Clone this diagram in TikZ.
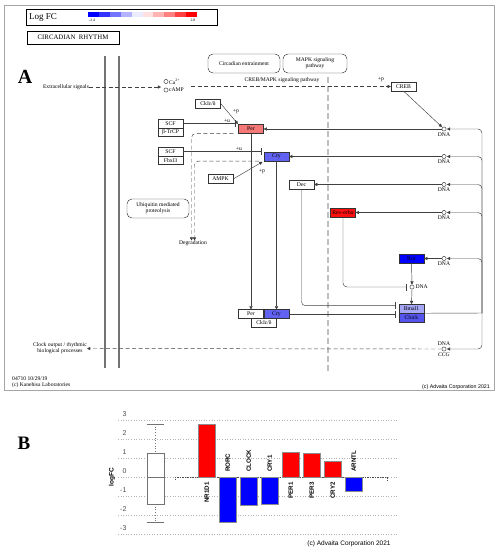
\documentclass[tikz,border=0pt]{standalone}
\usepackage{fontspec}
\setmainfont{Liberation Serif}
\setsansfont{Liberation Sans}
\usetikzlibrary{arrows.meta,positioning}

\definecolor{perred}{HTML}{F47878}
\definecolor{revred}{HTML}{FF1010}
\definecolor{crymid}{HTML}{6262F2}
\definecolor{rorblue}{HTML}{0000FF}
\definecolor{bmallight}{HTML}{A6A6F6}
\definecolor{clockmid}{HTML}{5555EE}

\tikzset{
	wire/.style={draw=black!75, line width=0.45pt},
	arr/.style={wire, -{Triangle[length=3.2pt,width=3.2pt]}},
	inh/.style={wire, -{Bar[width=7pt,line width=0.7pt]}},
	dsh/.style={wire, dash pattern=on 4pt off 2.5pt},
	gene/.style={draw=black!80, line width=0.4pt, minimum width=25pt, minimum height=8.7pt, inner sep=0pt, font=\fontsize{5.7}{6}\selectfont},
	dna/.style={circle, draw=black!80, line width=0.45pt, minimum size=4.2pt, inner sep=0pt},
	dnatxt/.style={font=\fontsize{5.6}{6}\selectfont, inner sep=1pt},
	tag/.style={font=\fontsize{5.6}{6.2}\selectfont, inner sep=0pt},
	mapbox/.style={draw=black!80, line width=0.45pt, rounded corners=5pt, align=center, font=\fontsize{5.6}{6}\selectfont},
	barlab/.style={font=\sffamily\bfseries\fontsize{6.2}{7}\selectfont, rotate=90, inner sep=0pt},
}

\begin{document}
\begin{tikzpicture}[x=1pt, y=-1pt]
	\useasboundingbox (0,0) rectangle (499,550);
	% panel A: frame, legend, title
	\draw[black!35, line width=0.8pt] (4,5) rectangle (494,390);
	\draw[line width=0.8pt] (26,9) rectangle (217,25);
	\node[font=\fontsize{9}{10}\selectfont] (logfc) at (43,17.5) {Log FC};
	\foreach \c [count=\i from 0] in {blue,blue!80,blue!55,blue!30,blue!8,red!12,red!30,red!50,red!75,red}
		\fill[\c] ({88+10.9*\i},11.5) rectangle ++(10.9,5.5);
	\node[tag, font=\fontsize{3.8}{4}\selectfont] (lo) at (92,20.7) {-2.4};
	\node[tag, font=\fontsize{3.8}{4}\selectfont] (hi) at (193,20.7) {2.8};
	\node[draw, line width=0.8pt, minimum width=92pt, minimum height=13pt, font=\fontsize{6.8}{8}\selectfont] (title) at (73,37.5) {CIRCADIAN\ \ RHYTHM};
	\node[font=\bfseries\fontsize{20}{20}\selectfont] (panA) at (25,77) {A};
	% membrane and pathway divider
	\draw[black!55, line width=1.4pt] (105,56) -- (105,368);
	\draw[black!55, line width=1.4pt] (119,56) -- (119,368);
	\draw[black!25, line width=2.2pt, dash pattern=on 6pt off 3pt] (328,77) -- (328,373);
	\node[mapbox, minimum width=72pt, minimum height=19pt] (entrain) at (244,63.5) {Circadian entrainment};
	\node[mapbox, minimum width=64pt, minimum height=19pt] (mapk) at (315,63.5) {MAPK signaling\\pathway};

	% input signals
	\node[tag] (extra) at (66,87) {Extracellular signals};
	\node[dna] (ca) at (166,81.5) {};
	\node[dna] (camp) at (166,90) {};
	\node[tag, anchor=west] (catxt) at (169,81.5) {Ca\textsuperscript{2+}};
	\node[tag, anchor=west] (camptxt) at (169,90) {cAMP};
	\coordinate (msgin) at (161,87);
	\coordinate (msgout) at (191,86.5);
	\node[gene] (creb) at (403.5,86.5) {CREB};
	\draw[dsh, arr] (extra.east) -- (msgin);
	\draw[dsh, arr] (msgout) -- (creb.west);
	\node[tag] (crebmapk) at (282,80.5) {CREB/MAPK signaling pathway};
	\node[tag] (pcreb) at (381,80) {+p};

	% clock genes
	\node[gene] (ckia) at (208,103.5) {CkIε/δ};
	\node[gene, fill=perred] (per) at (251,129) {Per};
	\node[gene, fill=crymid] (cry) at (276.5,156.5) {Cry};
	\node[gene] (scfa) at (170.5,123.5) {SCF};
	\node[gene] (btrcp) at (170.5,132.2) {β-TrCP};
	\node[gene] (scfb) at (170.5,151.5) {SCF};
	\node[gene] (fbxl3) at (170.5,160.2) {Fbxl3};
	\node[gene] (ampk) at (220.5,179) {AMPK};
	\node[mapbox, minimum width=62pt, minimum height=19pt] (ubq) at (158,208.5) {Ubiquitin mediated\\proteolysis};
	\node[tag, anchor=north] (degr) at (193,240.5) {Degradation};
	\node[gene] (dec) at (301.5,184.5) {Dec};
	\node[gene, fill=revred] (rev) at (343,212.5) {Rev-erbα};
	\node[gene, fill=rorblue] (ror) at (411.5,258.5) {Ror};
	\node[gene, fill=bmallight] (bmal) at (411.5,308.7) {Bmal1};
	\node[gene, fill=clockmid] (clock) at (411.5,317.4) {Clock};
	\node[gene] (per2) at (251,314) {Per};
	\node[gene, fill=crymid] (cry2) at (276.5,314) {Cry};
	\node[gene] (cki2) at (264,322.7) {CkIε/δ};

	% promoters
	\node[dna, label={[dnatxt]below:DNA}] (dna1) at (444,129) {};
	\node[dna, label={[dnatxt]below:DNA}] (dna2) at (444,156.5) {};
	\node[dna, label={[dnatxt]below:DNA}] (dna3) at (444,184.5) {};
	\node[dna, label={[dnatxt]below:DNA}] (dna4) at (444,212.5) {};
	\node[dna, label={[dnatxt]below:DNA}] (dna5) at (444,258.5) {};
	\node[dna, label={[dnatxt]right:DNA}] (dnar) at (412,287) {};
	\node[dna, label={[dnatxt]above:DNA}, label={[dnatxt, font=\itshape\fontsize{5.6}{6}\selectfont]below:CCG}] (dnac) at (444,349) {};

	% feedback loops
	\coordinate (hub) at (482,313);
	\draw[wire] (bmal.south east) -- (hub);
	\foreach \d in {dna1,dna2,dna3,dna4,dna5,dnac}
		\draw[arr, rounded corners=4pt, shorten >=0.6pt] (hub) -- (hub |- \d) -- (\d.east);
	\draw[arr, shorten >=0.5pt] (creb.south) -- (dna1.north west);
	\draw[arr] (dna1.west) -- (per.east);
	\draw[arr] (dna2.west) -- (cry.east);
	\draw[arr] (dna3.west) -- (dec.east);
	\draw[arr] (dna4.west) -- (rev.east);
	\draw[arr] (dna5.west) -- (ror.east);
	\draw[arr] (ror.south) -- (dnar.north);
	\draw[arr] (dnar.south) -- (bmal.north);
	\draw[inh, rounded corners=4pt, shorten >=3pt] (rev.south) |- (dnar.west);
	\draw[inh, rounded corners=4pt, shorten >=3pt] (dec.south) |- ([yshift=3pt]bmal.west);
	\draw[inh, shorten >=3pt] (cry2.east) -- (cry2.east -| bmal.west);
	\draw[arr] (per.south) -- (per2.north);
	\draw[arr] (cry.south) -- (cry2.north);

	% modification
	\draw[arr, shorten >=0.5pt] (ckia.east) -- (per.north west);
	\node[tag] (pper) at (236,112) {+p};
	\draw[inh, shorten >=2.5pt] (scfa.east) -- (scfa.east -| per.west);
	\node[tag] (uper) at (227,121) {+u};
	\draw[inh, shorten >=2.5pt] (scfb.east) -- (scfb.east -| cry.west);
	\node[tag] (ucry) at (239,149) {+u};
	\draw[arr, shorten >=1.5pt] (ampk.east) -- (cry.south west);
	\node[tag] (pcry) at (262,172) {+p};
	\draw[dsh, arr, rounded corners=4pt] ([xshift=-5pt]per.south west) -| ([xshift=-1.5pt]degr.north);
	\draw[dsh, arr, rounded corners=4pt] ([xshift=-5pt]cry.south west) -| ([xshift=1.5pt]degr.north);

	% output
	\node[tag, align=center] (clockout) at (60,348.5) {Clock output / rhythmic\\biological processes};
	\draw[dsh, arr] (dnac.west) -- (clockout.east);
	\node[tag, anchor=west, align=left] (kegginfo) at (12,382.5) {04710 10/29/19\\(c) Kanehisa Laboratories};
	\node[font=\sffamily\fontsize{5.3}{6}\selectfont] (adva) at (456,387) {(c) Advaita Corporation 2021};

	% panel B: logFC bar chart
	\node[font=\bfseries\fontsize{19}{19}\selectfont] (panB) at (24,443) {B};
	\foreach \v in {-3,...,3} {
		\draw[black!30, dotted, line width=0.6pt] (118,{477-19*\v}) -- (398,{477-19*\v});
		\node[font=\sffamily\fontsize{7}{8}\selectfont, text=black!70, anchor=east] (ytick\v) at (130,{471-19*\v}) {\v};
	}
	\node[font=\sffamily\bfseries\fontsize{6.5}{7}\selectfont, rotate=90] (ylab) at (112,477) {logFC};
	\draw[black!55, dotted, line width=0.7pt] (155.5,424) -- (155.5,453) (155.5,504) -- (155.5,522);
	\draw[black!55, line width=0.6pt] (147,424) -- (164,424) (147,522) -- (164,522);
	\draw[black!55, fill=white, line width=0.6pt] (147,453) rectangle (164,504);
	\draw[black!55, line width=0.6pt] (147,477) -- (164,477);
	\draw[black!70, dash pattern=on 1.5pt off 1pt, line width=0.6pt] (175,480) -- (175,477) -- (387,477) -- (387,480);
	\foreach \g/\v/\i in {NR1D1/2.79/0, PER1/1.32/4, PER3/1.26/5, CRY2/0.84/6} {
		\draw[black!45, fill=red] ({198+21*\i},477) rectangle ++(17.5,{-19*\v});
		\node[barlab, anchor=east] (g\g) at ({206.75+21*\i},482) {\g};
	}
	\foreach \g/\v/\i in {RORC/-2.37/1, CLOCK/-1.47/2, CRY1/-1.42/3, ARNTL/-0.74/7} {
		\draw[black!45, fill=blue] ({198+21*\i},477) rectangle ++(17.5,{-19*\v});
		\node[barlab, anchor=west] (g\g) at ({206.75+21*\i},472) {\g};
	}
	\node[font=\sffamily\fontsize{6.5}{7}\selectfont] (advb) at (349,544) {(c) Advaita Corporation 2021};
\end{tikzpicture}
\end{document}
